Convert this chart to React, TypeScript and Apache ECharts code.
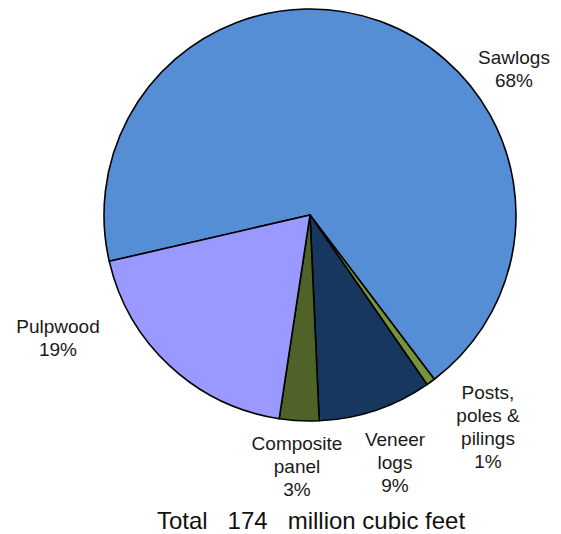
import React, { useEffect, useRef } from "react";
import * as echarts from "echarts";

const categories = ["Sawlogs", "Posts,\npoles &\npilings", "Veneer\nlogs", "Composite\npanel", "Pulpwood"];
const shares = [68.3, 0.7, 8.9, 3.1, 19.0];
const colors = ["#558ED5", "#77933C", "#17375E", "#4F6228", "#9999FF"];
const totalTitle = "Total   174   million cubic feet";

// label anchor points (pixels)
const labelX = [514, 488, 395, 297, 58];
const labelY = [69, 427, 462, 466, 338];

export default function App() {
  const ref = useRef<HTMLDivElement>(null);
  useEffect(() => {
    if (!ref.current) return;
    const chart = echarts.init(ref.current, undefined, { renderer: "svg" });
    chart.setOption({
      animation: false,
      backgroundColor: "#ffffff",
      title: {
        text: totalTitle,
        left: 311,
        top: 507,
        padding: 0,
        textAlign: "center",
        textStyle: {
          fontFamily: "Liberation Sans, Arial, sans-serif",
          fontSize: 24,
          lineHeight: 26,
          fontWeight: "normal",
          color: "#111111",
        },
      },
      series: [
        {
          type: "pie",
          center: [310, 215],
          radius: 206,
          startAngle: 193,
          clockwise: true,
          avoidLabelOverlap: false,
          itemStyle: { borderColor: "#000000", borderWidth: 1.6 },
          emphasis: { disabled: true },
          label: {
            show: true,
            position: "outside",
            fontFamily: "Liberation Sans, Arial, sans-serif",
            fontSize: 19,
            lineHeight: 23,
            color: "#1a1a1a",
            align: "center",
            formatter: (p: any) => `${p.name}\n${Math.round(p.value)}%`,
          },
          labelLine: { show: false },
          labelLayout: (p: any) => ({
            x: labelX[p.dataIndex],
            y: labelY[p.dataIndex],
            align: "center",
            verticalAlign: "middle",
          }),
          data: categories.map((c, i) => ({
            name: c,
            value: shares[i],
            itemStyle: { color: colors[i] },
          })),
        },
      ],
    });
    return () => chart.dispose();
  }, []);
  return (
    <div
      ref={ref}
      style={{ position: "fixed", left: 0, top: 0, width: 561, height: 534 }}
    />
  );
}
